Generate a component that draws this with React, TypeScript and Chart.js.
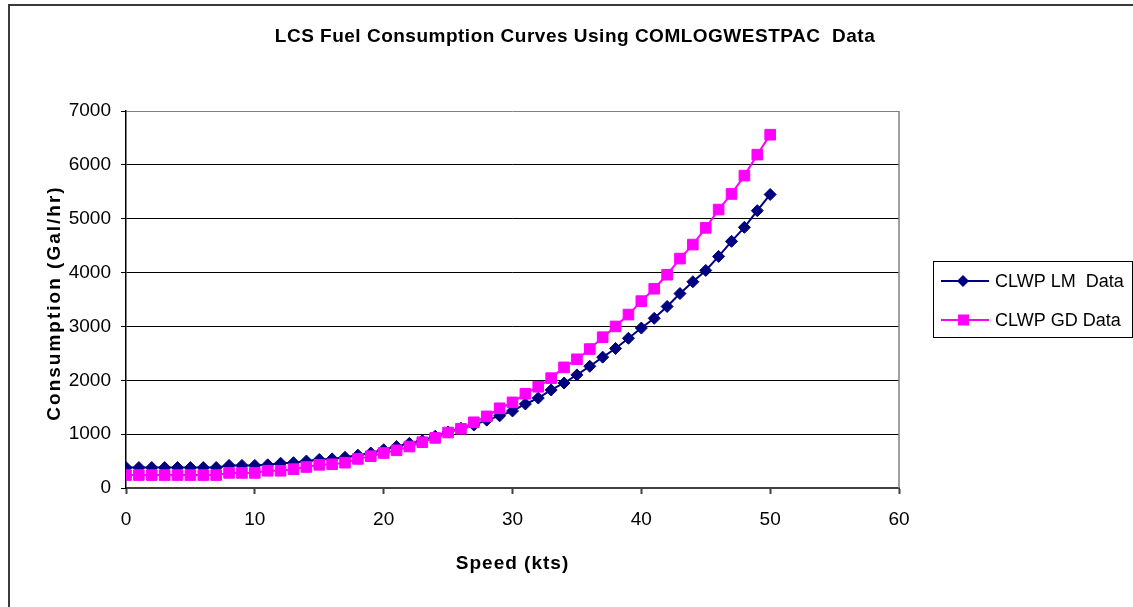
import React, { useEffect, useRef } from 'react';
import { Chart, registerables } from 'chart.js';

Chart.register(...registerables);

const speeds = [
  0, 1, 2, 3, 4, 5, 6, 7, 8, 9, 10, 11, 12, 13, 14, 15, 16, 17, 18, 19, 20, 21, 22, 23, 24, 25,
  26, 27, 28, 29, 30, 31, 32, 33, 34, 35, 36, 37, 38, 39, 40, 41, 42, 43, 44, 45, 46, 47, 48, 49, 50,
];

const lmData = [
  380, 380, 380, 380, 380, 380, 380, 380, 420, 420, 420, 430, 460, 470, 500, 530, 540, 570, 610, 650,
  710, 770, 830, 880, 960, 1040, 1110, 1170, 1260, 1340, 1430, 1560, 1670, 1820, 1950, 2100, 2260,
  2430, 2590, 2780, 2970, 3150, 3370, 3610, 3830, 4040, 4300, 4580, 4840, 5150, 5450,
];

const gdData = [
  240, 240, 240, 240, 240, 240, 240, 240, 280, 280, 280, 320, 320, 350, 390, 430, 440, 470, 540, 590,
  650, 700, 770, 850, 930, 1030, 1100, 1220, 1330, 1480, 1590, 1750, 1880, 2040, 2240, 2390, 2580,
  2800, 3000, 3220, 3470, 3700, 3960, 4260, 4520, 4830, 5170, 5460, 5800, 6190, 6560,
];

const seriesNames = ['CLWP LM  Data', 'CLWP GD Data'];
const seriesColors = ['#000080', '#FF00FF'];
const xTicks = [0, 10, 20, 30, 40, 50, 60];
const yTicks = [0, 1000, 2000, 3000, 4000, 5000, 6000, 7000];
const titleText = 'LCS Fuel Consumption Curves Using COMLOGWESTPAC  Data';
const xTitleText = 'Speed (kts)';
const yTitleText = 'Consumption (Gal/hr)';

const FONT = '"Liberation Sans", Arial, sans-serif';

const decorPlugin = {
  id: 'decor',
  beforeDatasetsDraw(chart: any) {
    const { ctx, chartArea } = chart;
    ctx.save();
    ctx.strokeStyle = '#808080';
    ctx.lineWidth = 1.5;
    ctx.beginPath();
    ctx.moveTo(chartArea.right, chartArea.top);
    ctx.lineTo(chartArea.right, chartArea.bottom);
    ctx.stroke();
    ctx.restore();
  },
  afterDraw(chart: any) {
    const { ctx, chartArea } = chart;
    ctx.save();
    // outer frame (left and top edges visible)
    ctx.strokeStyle = '#3a3a3a';
    ctx.lineWidth = 2;
    ctx.beginPath();
    ctx.moveTo(9, 700);
    ctx.lineTo(9, 5);
    ctx.lineTo(1200, 5);
    ctx.stroke();

    ctx.fillStyle = '#000';
    // title
    ctx.font = `bold 19px ${FONT}`;
    (ctx as any).letterSpacing = '0.5px';
    ctx.textAlign = 'center';
    ctx.textBaseline = 'middle';
    ctx.fillText(titleText, 575, 37);

    // x title
    (ctx as any).letterSpacing = '1px';
    ctx.fillText(xTitleText, (chartArea.left + chartArea.right) / 2, 564);

    // y title
    (ctx as any).letterSpacing = '2px';
    ctx.save();
    ctx.translate(55, 303);
    ctx.rotate(-Math.PI / 2);
    ctx.fillText(yTitleText, 0, 0);
    ctx.restore();
    (ctx as any).letterSpacing = '0px';

    // legend
    const lx = 933.5, ly = 261.5, lw = 199, lh = 76;
    ctx.strokeStyle = '#000';
    ctx.lineWidth = 1;
    ctx.strokeRect(lx, ly, lw, lh);
    const rows = [281, 320];
    ctx.font = `18px ${FONT}`;
    ctx.textAlign = 'left';
    rows.forEach((ry, i) => {
      ctx.strokeStyle = seriesColors[i];
      ctx.fillStyle = seriesColors[i];
      ctx.lineWidth = 2;
      ctx.beginPath();
      ctx.moveTo(941, ry);
      ctx.lineTo(989, ry);
      ctx.stroke();
      ctx.beginPath();
      if (i === 0) {
        ctx.moveTo(963, ry - 6);
        ctx.lineTo(969, ry);
        ctx.lineTo(963, ry + 6);
        ctx.lineTo(957, ry);
        ctx.closePath();
      } else {
        ctx.rect(958, ry - 5.5, 11, 11);
      }
      ctx.fill();
      ctx.fillStyle = '#000';
      ctx.fillText(seriesNames[i], 995, ry + 1);
    });
    ctx.restore();
  },
};

export default function App() {
  const canvasRef = useRef<HTMLCanvasElement | null>(null);

  useEffect(() => {
    const canvas = canvasRef.current;
    if (!canvas) return;
    const tickFont = { family: FONT, size: 19 };
    const chart = new Chart(canvas, {
      type: 'line',
      data: {
        datasets: [
          {
            label: seriesNames[0],
            data: speeds.map((s, i) => ({ x: s, y: lmData[i] })),
            borderColor: seriesColors[0],
            backgroundColor: seriesColors[0],
            borderWidth: 2,
            pointStyle: 'rectRot',
            pointRadius: 6,
            pointBorderWidth: 1,
            tension: 0,
            order: 1,
          },
          {
            label: seriesNames[1],
            data: speeds.map((s, i) => ({ x: s, y: gdData[i] })),
            borderColor: seriesColors[1],
            backgroundColor: seriesColors[1],
            borderWidth: 2,
            pointStyle: 'rect',
            pointRadius: 7.5,
            pointBorderWidth: 1,
            tension: 0,
            order: 0,
          },
        ],
      },
      options: {
        animation: false,
        responsive: false,
        maintainAspectRatio: false,
        layout: { padding: { left: 0, top: 111, right: 234, bottom: 0 } },
        plugins: {
          legend: { display: false },
          tooltip: { enabled: false },
          title: { display: false },
        },
        scales: {
          x: {
            type: 'linear',
            min: 0,
            max: 60,
            afterBuildTicks: (scale: any) => {
              scale.ticks = xTicks.map((v) => ({ value: v }));
            },
            afterFit: (scale: any) => {
              scale.height = 119;
            },
            grid: {
              drawOnChartArea: false,
              drawTicks: true,
              tickLength: 6,
              tickColor: '#404040',
              tickWidth: 2,
            },
            border: { display: true, color: '#404040', width: 2 },
            ticks: {
              font: tickFont,
              color: '#000',
              padding: 14,
              maxRotation: 0,
              autoSkip: false,
              callback: (v: any) => String(v),
            },
          },
          y: {
            type: 'linear',
            min: 0,
            max: 7000,
            afterBuildTicks: (scale: any) => {
              scale.ticks = yTicks.map((v) => ({ value: v }));
            },
            afterFit: (scale: any) => {
              scale.width = 126;
            },
            grid: {
              color: (c: any) => (c.tick && c.tick.value === 7000 ? '#808080' : '#000'),
              lineWidth: 1,
              drawTicks: true,
              tickLength: 5,
              tickColor: '#000',
            },
            border: { display: true, color: '#000', width: 1.5 },
            ticks: { font: tickFont, color: '#000', padding: 10, callback: (v: any) => String(v) },
          },
        },
      },
      plugins: [decorPlugin],
    });
    return () => chart.destroy();
  }, []);

  return (
    <div style={{ position: 'absolute', left: 0, top: 0, width: 1133, height: 607, background: '#fff' }}>
      <canvas ref={canvasRef} width={1133} height={607} style={{ display: 'block', width: 1133, height: 607 }} />
    </div>
  );
}
